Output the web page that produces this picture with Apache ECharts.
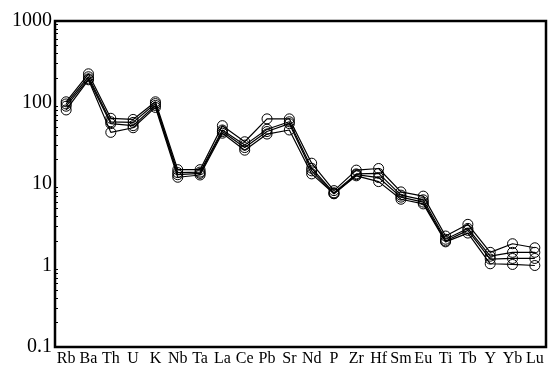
<!DOCTYPE html>
<html>
<head>
<meta charset="utf-8">
<script src="https://cdn.jsdelivr.net/npm/echarts@6/dist/echarts.min.js"></script>
<style>
html,body{margin:0;padding:0;background:#fff;}
#chart{width:548px;height:373px;}
</style>
</head>
<body>
<div id="chart"></div>
<script>
var categories = ['Rb','Ba','Th','U','K','Nb','Ta','La','Ce','Pb','Sr','Nd','P','Zr','Hf','Sm','Eu','Ti','Tb','Y','Yb','Lu'];
var sampleA = [102, 225, 64, 62, 102, 15, 15, 52, 33, 63, 63, 18, 8.3, 14.8, 15.5, 8.0, 7.1, 2.3, 3.2, 1.45, 1.85, 1.65];
var sampleB = [96, 207, 58, 57, 97, 13.8, 14, 46, 30, 47, 58, 15.6, 7.8, 13.3, 13.5, 7.3, 6.4, 2.1, 2.85, 1.3, 1.45, 1.45];
var sampleC = [90, 195, 55, 52, 92, 13, 13.5, 44, 28, 44, 55, 14.5, 7.6, 13, 12, 6.9, 6.0, 2.0, 2.7, 1.2, 1.22, 1.22];
var sampleD = [81, 190, 43, 49, 87, 12.1, 12.9, 42, 26, 41, 46, 13.3, 7.6, 12.6, 10.7, 6.5, 5.7, 1.95, 2.5, 1.05, 1.03, 1.0];
var yTicks = [0.1, 1, 10, 100, 1000];

function mk(d){
  return {
    type:'line', data:d, symbol:'circle', symbolSize:10,
    lineStyle:{color:'#000', width:1.2},
    itemStyle:{color:'rgba(0,0,0,0)', borderColor:'#000', borderWidth:1},
    emphasis:{disabled:true}, animation:false, z:3
  };
}
var chart = echarts.init(document.getElementById('chart'));
chart.setOption({
  backgroundColor:'#fff',
  animation:false,
  grid:{left:55, right:2, top:21, bottom:26, show:true, borderColor:'#000', borderWidth:2.5, backgroundColor:'transparent'},
  xAxis:{
    type:'category', data:categories, boundaryGap:true,
    axisLine:{lineStyle:{color:'#000', width:2}},
    axisTick:{inside:true, alignWithLabel:true, length:4, lineStyle:{color:'#000', width:1}},
    axisLabel:{color:'#000', fontFamily:'Liberation Serif', fontSize:16, margin:4, interval:0}
  },
  yAxis:{
    type:'log', logBase:10, min:0.1, max:1000,
    axisLine:{show:true, lineStyle:{color:'#000', width:2}},
    axisTick:{inside:true, length:5, lineStyle:{color:'#000', width:1}},
    minorTick:{show:true, splitNumber:9, length:3, lineStyle:{color:'#000', width:1}},
    splitLine:{show:false},
    axisLabel:{color:'#000', fontFamily:'Liberation Serif', fontSize:20, margin:3,
      formatter:function(v){
        for (var i=0;i<yTicks.length;i++){ if (Math.abs(v-yTicks[i])/yTicks[i] < 1e-6) return String(yTicks[i]); }
        return '';
      }}
  },
  series:[mk(sampleA), mk(sampleB), mk(sampleC), mk(sampleD)]
});
</script>
</body>
</html>
